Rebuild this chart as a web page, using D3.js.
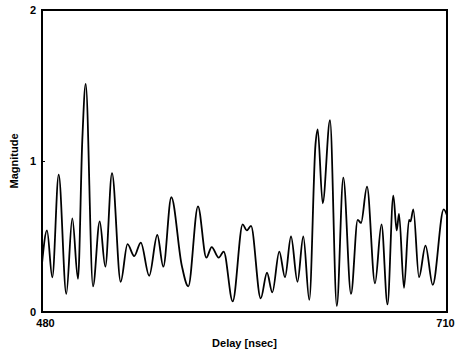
<!DOCTYPE html>
<html>
<head>
<meta charset="utf-8">
<script src="https://cdn.jsdelivr.net/npm/d3@7"></script>
<style>
  body { margin: 0; background: #fff; }
  svg text { font-family: "Liberation Sans", Arial, sans-serif; }
</style>
</head>
<body>
<div id="chart"></div>
<script>
// delay in nsec, magnitude (peaks, troughs, shoulders)
const delay = [480.0, 482.84, 485.85, 489.48, 493.80, 497.21, 500.44, 502.89, 504.82, 508.96,
  512.77, 515.95, 519.75, 524.69, 528.56, 532.36, 536.11, 540.88, 545.48, 548.89,
  553.43, 559.34, 563.08, 568.59, 573.31, 576.37, 580.35, 583.19, 588.30, 593.98,
  596.25, 598.69, 604.20, 607.78, 610.79, 614.76, 618.00, 621.41, 625.09, 628.39,
  631.80, 635.32, 636.57, 639.41, 643.56, 647.42, 651.11, 655.48, 659.29, 661.16,
  664.57, 669.11, 672.80, 676.21, 679.51, 681.44, 682.74, 685.58, 688.42, 689.27,
  690.86, 694.10, 697.79, 701.88, 708.13, 710.0];
const magnitude = [0.32, 0.54, 0.23, 0.91, 0.12, 0.62, 0.22, 1.14, 1.51, 0.17,
  0.60, 0.30, 0.92, 0.20, 0.45, 0.37, 0.46, 0.24, 0.51, 0.30,
  0.76, 0.31, 0.17, 0.70, 0.36, 0.43, 0.36, 0.40, 0.07, 0.58,
  0.54, 0.57, 0.09, 0.26, 0.13, 0.40, 0.23, 0.50, 0.20, 0.50,
  0.08, 1.11, 1.21, 0.72, 1.27, 0.04, 0.89, 0.12, 0.61, 0.59,
  0.83, 0.19, 0.58, 0.05, 0.77, 0.54, 0.65, 0.16, 0.61, 0.60,
  0.68, 0.23, 0.44, 0.18, 0.68, 0.64];
const yTicks = [0, 1, 2];
const xTicks = [480, 710];

const W = 455, H = 352;
const margin = { top: 10, right: 8, bottom: 40, left: 42 };
const width = W - margin.left - margin.right,
  height = H - margin.top - margin.bottom;

const svg = d3.select('#chart').append('svg')
  .attr('width', W)
  .attr('height', H)
  .append('g')
  .attr('transform', `translate(${margin.left},${margin.top})`);

const x = d3.scaleLinear().domain([480, 710]).range([0, width]);
const y = d3.scaleLinear().domain([0, 2]).range([height, 0]);

const points = delay.map((d, i) => ({ d: d, m: magnitude[i] }));

// frame
svg.append('rect')
  .attr('x', 0).attr('y', 0)
  .attr('width', width).attr('height', height)
  .attr('fill', 'none')
  .attr('stroke', '#000')
  .attr('stroke-width', 2);

// Y axis
const yAxis = d3.axisLeft(y).tickValues(yTicks).tickSize(-3).tickPadding(6)
  .tickFormat(d3.format('d'));
svg.append('g')
  .attr('class', 'y axis')
  .call(yAxis)
  .call(g => g.select('.domain').remove())
  .call(g => g.selectAll('line').attr('stroke', '#000'))
  .call(g => g.selectAll('text')
    .style('font-size', '11px').style('font-weight', 'bold').attr('fill', '#000'));

// X axis, labels only at the ends
const xAxis = d3.axisBottom(x).tickValues(xTicks).tickSize(0).tickPadding(7)
  .tickFormat(d3.format('d'));
svg.append('g')
  .attr('class', 'x axis')
  .attr('transform', `translate(0,${height})`)
  .call(xAxis)
  .call(g => g.select('.domain').remove())
  .call(g => g.selectAll('text')
    .style('font-size', '11px').style('font-weight', 'bold').attr('fill', '#000'))
  .call(g => g.selectAll('.tick').filter(d => d === 480).select('text').attr('dx', 3))
  .call(g => g.selectAll('.tick').filter(d => d === 710).select('text').attr('dx', -2));

// axis titles
svg.append('text')
  .attr('x', width / 2)
  .attr('y', height + 35)
  .style('text-anchor', 'middle')
  .style('font-size', '11px')
  .style('font-weight', 'bold')
  .text('Delay [nsec]');

svg.append('text')
  .attr('transform', 'rotate(-90)')
  .attr('x', -(height / 2))
  .attr('y', -24)
  .style('text-anchor', 'middle')
  .style('font-size', '11px')
  .style('font-weight', 'bold')
  .text('Magnitude');

// the trace
svg.append('path')
  .datum(points)
  .attr('fill', 'none')
  .attr('stroke', '#000')
  .attr('stroke-width', 1.8)
  .attr('stroke-linejoin', 'round')
  .attr('d', d3.line()
    .x(p => x(p.d))
    .y(p => y(p.m))
    .curve(d3.curveMonotoneX));
</script>
</body>
</html>
